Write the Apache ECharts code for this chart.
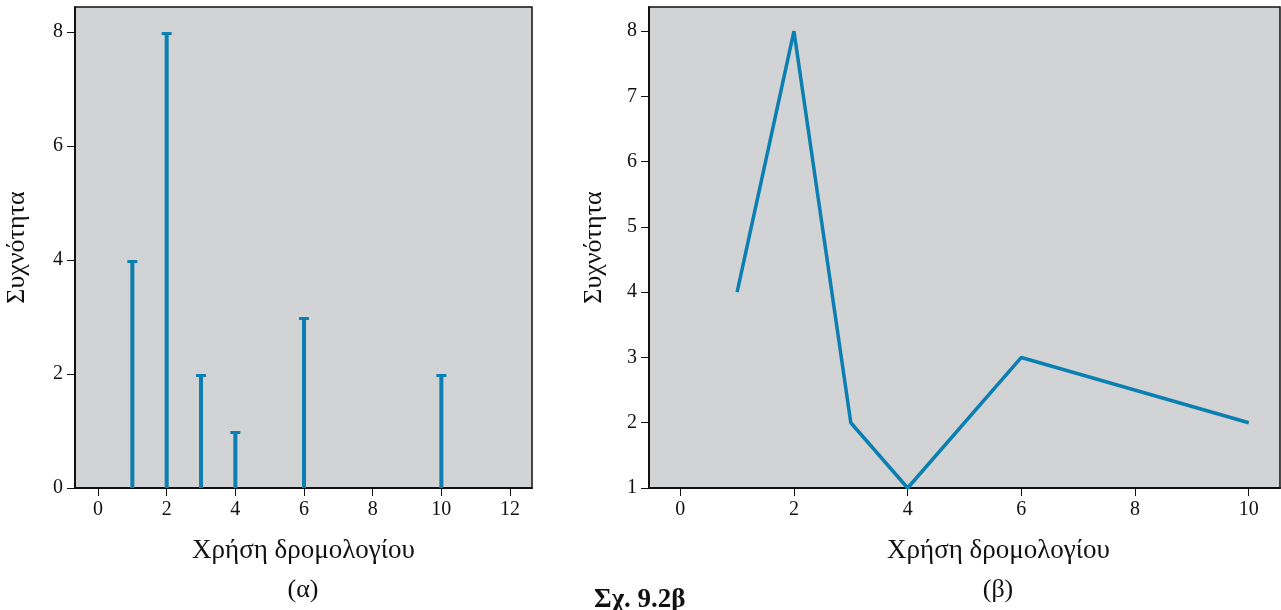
<!DOCTYPE html>
<html>
<head>
<meta charset="utf-8">
<script src="https://cdn.jsdelivr.net/npm/echarts@6/dist/echarts.min.js"></script>
<style>
  html, body { margin: 0; padding: 0; background: #fff; }
  #main { width: 1281px; height: 610px; }
</style>
</head>
<body>
<div id="main"></div>
<script>
// δεδομένα
const usage = [1, 2, 3, 4, 6, 10];
const freq = [4, 8, 2, 1, 3, 2];
const ticksLeftX = [0, 2, 4, 6, 8, 10, 12];
const ticksLeftY = [0, 2, 4, 6, 8];
const ticksRightX = [0, 2, 4, 6, 8, 10];
const ticksRightY = [1, 2, 3, 4, 5, 6, 7, 8];

const blue = '#0b7fb1';
const serif = 'Liberation Serif';

const chart = echarts.init(document.getElementById('main'));

function axisCommon(ticks) {
  return {
    axisLine: { show: true, onZero: false, lineStyle: { color: '#111', width: 2 } },
    axisTick: { show: true, length: 8, customValues: ticks, lineStyle: { color: '#111', width: 1 } },
    axisLabel: { customValues: ticks, color: '#111', fontFamily: serif, fontSize: 20, margin: 12 },
    splitLine: { show: false }
  };
}

const option = {
  animation: false,
  grid: [
    { left: 75, top: 7, width: 457, height: 481, show: true, backgroundColor: '#d1d3d5', borderColor: '#111', borderWidth: 1.5 },
    { left: 649, top: 7, width: 631, height: 481, show: true, backgroundColor: '#d1d3d5', borderColor: '#111', borderWidth: 1.5 }
  ],
  xAxis: [
    Object.assign({
      type: 'value', gridIndex: 0, min: -0.67, max: 12.64,
      name: 'Χρήση δρομολογίου', nameLocation: 'middle', nameGap: 49,
      nameTextStyle: { fontFamily: serif, fontSize: 27, color: '#111' }
    }, axisCommon(ticksLeftX)),
    Object.assign({
      type: 'value', gridIndex: 1, min: -0.55, max: 10.55,
      name: 'Χρήση δρομολογίου', nameLocation: 'middle', nameGap: 49,
      nameTextStyle: { fontFamily: serif, fontSize: 27, color: '#111', padding: [0, 0, 0, 68] }
    }, axisCommon(ticksRightX))
  ],
  yAxis: [
    Object.assign({
      type: 'value', gridIndex: 0, min: 0, max: 8.44,
      name: 'Συχνότητα', nameLocation: 'middle', nameGap: 45,
      nameTextStyle: { fontFamily: serif, fontSize: 26, color: '#111' }
    }, axisCommon(ticksLeftY)),
    Object.assign({
      type: 'value', gridIndex: 1, min: 1, max: 8.37,
      name: 'Συχνότητα', nameLocation: 'middle', nameGap: 42,
      nameTextStyle: { fontFamily: serif, fontSize: 26, color: '#111' }
    }, axisCommon(ticksRightY))
  ],
  series: [
    {
      // (α) ραβδόγραμμα με καπάκι
      type: 'custom',
      xAxisIndex: 0, yAxisIndex: 0,
      data: usage.map((u, i) => [u, freq[i]]),
      renderItem: function (params, api) {
        const base = api.coord([api.value(0), 0]);
        const top = api.coord([api.value(0), api.value(1)]);
        return {
          type: 'group',
          children: [
            { type: 'line', shape: { x1: base[0], y1: base[1], x2: top[0], y2: top[1] }, style: { stroke: blue, lineWidth: 4 } },
            { type: 'line', shape: { x1: top[0] - 5, y1: top[1] + 1.5, x2: top[0] + 5, y2: top[1] + 1.5 }, style: { stroke: blue, lineWidth: 3 } }
          ]
        };
      }
    },
    {
      // (β) πολύγωνο συχνοτήτων
      type: 'line',
      xAxisIndex: 1, yAxisIndex: 1,
      data: usage.map((u, i) => [u, freq[i]]),
      symbol: 'none',
      lineStyle: { color: blue, width: 3.5 },
      clip: false
    }
  ],
  graphic: [
    { type: 'text', x: 303, y: 577, style: { text: '(α)', font: '26px "Liberation Serif"', fill: '#111', textAlign: 'center' } },
    { type: 'text', x: 998, y: 577, style: { text: '(β)', font: '26px "Liberation Serif"', fill: '#111', textAlign: 'center' } },
    { type: 'text', x: 594, y: 587, style: { text: 'Σχ. 9.2β', font: 'bold 27px "Liberation Serif"', fill: '#111' } }
  ]
};

chart.setOption(option);
</script>
</body>
</html>
